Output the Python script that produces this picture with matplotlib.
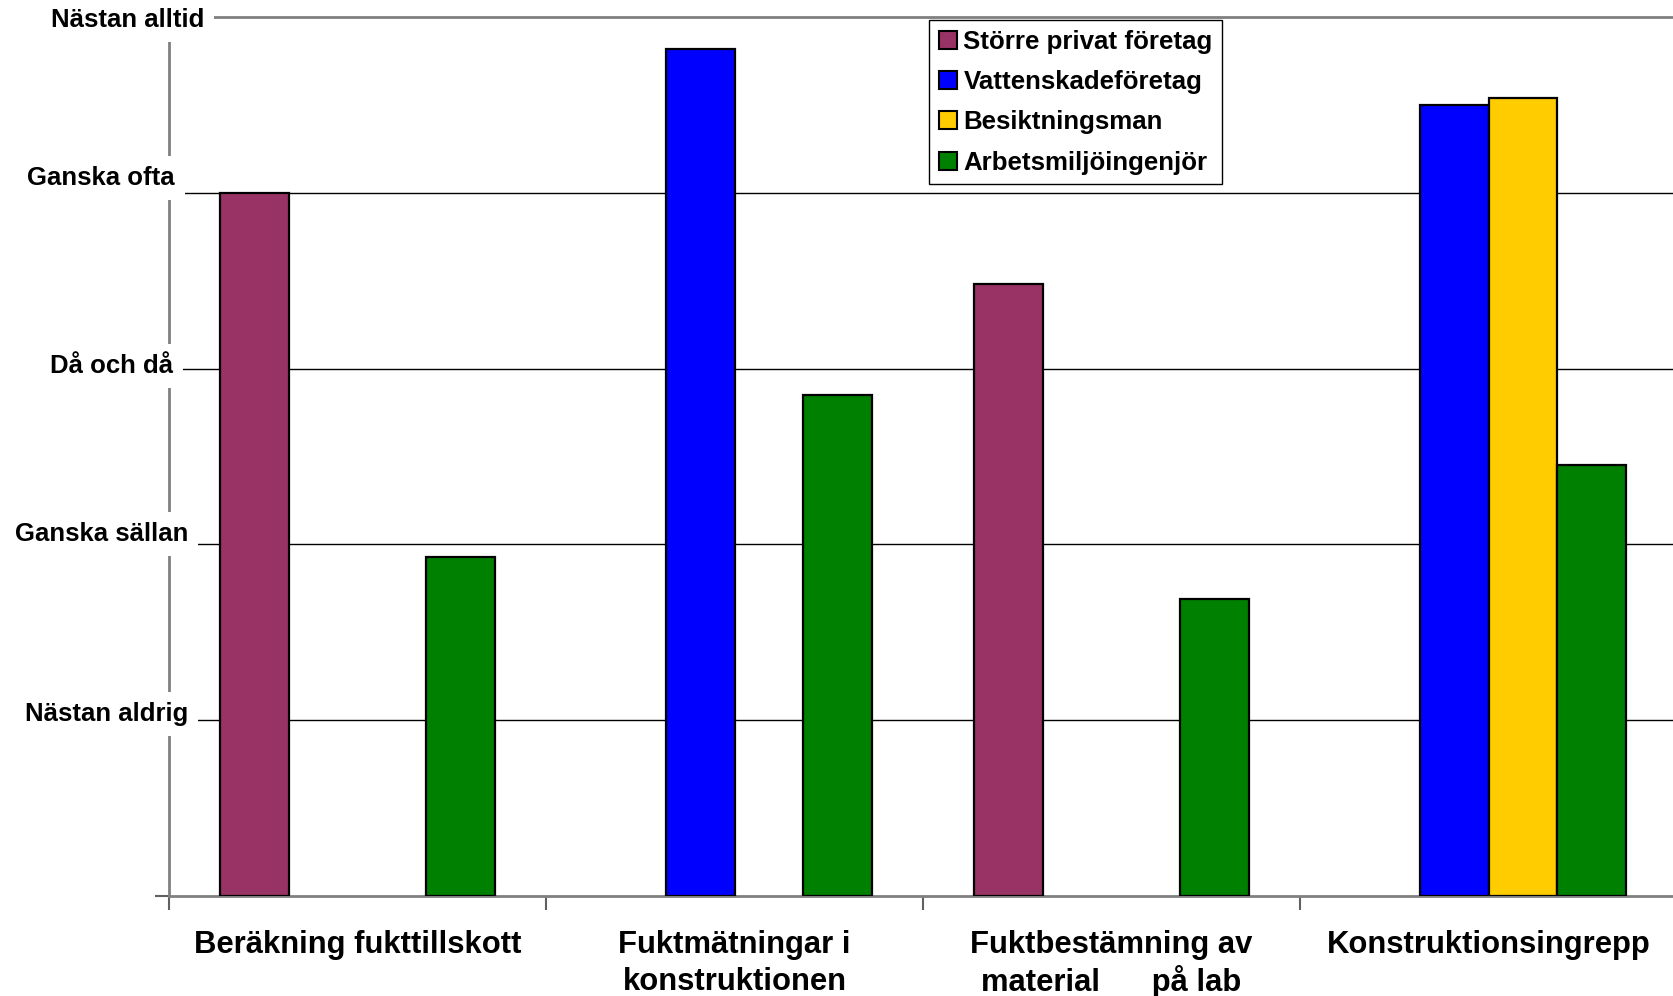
import matplotlib
matplotlib.use("Agg")
import matplotlib.pyplot as plt
import matplotlib.patches as mpatches
import numpy as np

plt.rcParams['font.family'] = ['Liberation Sans', 'DejaVu Sans']
plt.rcParams['font.weight'] = 'bold'

# ---- data ----
categories = ["Beräkning fukttillskott", "Fuktmätningar i\nkonstruktionen",
              "Fuktbestämning av\nmaterial      på lab", "Konstruktionsingrepp"]
series_names = ["Större privat företag", "Vattenskadeföretag",
                "Besiktningsman", "Arbetsmiljöingenjör"]
storre_privat = [4.0, np.nan, 3.48, np.nan]
vattenskade = [np.nan, 4.82, np.nan, 4.50]
besiktningsman = [np.nan, np.nan, np.nan, 4.54]
arbetsmiljo = [1.93, 2.85, 1.69, 2.45]
level_labels = ["Nästan aldrig", "Ganska sällan", "Då och då", "Ganska ofta", "Nästan alltid"]
level_values = [1, 2, 3, 4, 5]

colors = ["#993366", "#0000FF", "#FFCC00", "#008000"]

W, H = 1674, 996
fig = plt.figure(figsize=(W / 100, H / 100), dpi=100)

def fx(x):
    return x / W

def fy(y):
    return 1 - y / H

ax_left, ax_right = 169, 169 + 4 * 377
ax_top, ax_bottom = 17, 896
ax = fig.add_axes([fx(ax_left), fy(ax_bottom), (ax_right - ax_left) / W, (ax_bottom - ax_top) / H])
ax.set_xlim(0, 4)
ax.set_ylim(0, 5)

bw = 1 / 5.5
series = [storre_privat, vattenskade, besiktningsman, arbetsmiljo]
centers = np.arange(4) + 0.5
for i, vals in enumerate(series):
    xs = centers + (i - 1.5) * bw
    ax.bar(xs, vals, width=bw, color=colors[i], edgecolor="black", linewidth=1.6, zorder=3)

# grid
for v in level_values[:-1]:
    ax.axhline(v, color="black", linewidth=1.0, zorder=1)

for s in ["left", "bottom", "top"]:
    ax.spines[s].set_color("#808080")
    ax.spines[s].set_linewidth(2)
ax.spines["right"].set_visible(False)

ax.set_xticks([0, 1, 2, 3, 4])
ax.set_xticklabels([])
ax.set_yticks([0])
ax.set_yticklabels([])
ax.tick_params(axis="both", direction="out", length=10, width=1.5, color="#606060")

# y level labels (with white boxes covering the axis)
ylab_pos = [(188, 714), (188, 534), (173, 366), (175, 178), (204, 20)]
for lab, (x, y) in zip(level_labels, ylab_pos):
    fig.text(fx(x), fy(y), lab, ha="right", va="center", fontsize=18.5, fontweight="bold",
             bbox=dict(boxstyle="square,pad=0.4", facecolor="white", edgecolor="none"))

# x category labels, one text per line
line_y = [941, 978]
for c, lab in zip(centers, categories):
    xfig = fig.transFigure.inverted().transform(ax.transData.transform((c, 0)))[0]
    for k, line in enumerate(lab.split("\n")):
        fig.text(xfig, fy(line_y[k]), line, ha="center", va="center_baseline",
                 fontsize=22.3, fontweight="bold")

# legend
handles = [mpatches.Patch(facecolor=colors[i], edgecolor="black", linewidth=1.5, label=series_names[i])
           for i in range(4)]
leg = ax.legend(handles=handles, loc="upper left", bbox_to_anchor=(fx(929), fy(20)),
                bbox_transform=fig.transFigure, borderaxespad=0, fontsize=18.6,
                handlelength=0.7, handleheight=0.7, handletextpad=0.25, labelspacing=0.63,
                borderpad=0.38, fancybox=False, framealpha=1, edgecolor="black")
leg.get_frame().set_linewidth(1.0)
leg.set_zorder(10)

fig.savefig("out.png", dpi=100)
